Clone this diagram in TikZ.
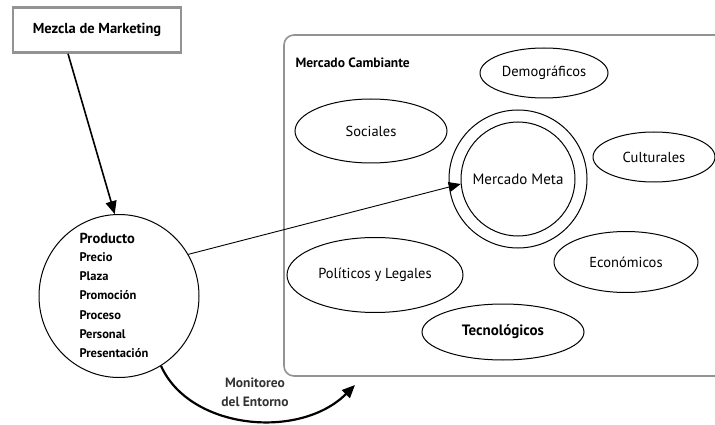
\documentclass[tikz,border=0pt]{standalone}
\usepackage{fontspec}
\setmainfont{PT Sans}
\usetikzlibrary{shapes.geometric,arrows.meta,calc}
\begin{document}
\begin{tikzpicture}[x=1pt,y=-1pt,
  factor/.style={draw, ellipse, line width=1pt, inner sep=0pt, font=\fontsize{14.5}{16}\selectfont},
  bigtip/.style={-{Triangle[length=13pt,width=11pt]}},
  lst/.style={font=\bfseries\fontsize{12.5}{14}\selectfont, anchor=west}]
\useasboundingbox (0,0) rectangle (715,425);
% top box
\node[draw=gray!85, line width=2.5pt, minimum width=168pt, minimum height=45pt,
      font=\bfseries\fontsize{14.5}{16}\selectfont] (mezcla) at (97,30) {Mezcla de Marketing};
% marketing mix ellipse
\node[draw, ellipse, line width=1pt, minimum width=160pt, minimum height=163pt] (mix) at (119,296) {};
\node[lst, font=\bfseries\fontsize{14.5}{16}\selectfont] (p1) at (76,238) {Producto};
\node[lst] (p2) at (76,257) {Precio};
\node[lst] (p3) at (76,276) {Plaza};
\node[lst] (p4) at (76,295) {Promoción};
\node[lst] (p5) at (76,315) {Proceso};
\node[lst] (p6) at (76,334) {Personal};
\node[lst] (p7) at (76,353) {Presentación};
% changing market frame
\draw[gray!85, line width=1.6pt, rounded corners=10pt] (740,35) -- (284,35) -- (284,376) -- (740,376);
\node[font=\bfseries\fontsize{13.5}{15}\selectfont, anchor=west] (cambio) at (292,63) {Mercado Cambiante};
% factors
\node[factor, minimum width=128pt, minimum height=50pt] (demo) at (544,73) {Demográficos};
\node[factor, minimum width=152pt, minimum height=64pt] (soc) at (371,131) {Sociales};
\node[factor, minimum width=122pt, minimum height=50pt] (cult) at (654,157) {Culturales};
\node[factor, minimum width=144pt, minimum height=61pt] (eco) at (626,262) {Económicos};
\node[factor, minimum width=176pt, minimum height=75pt] (pol) at (375,275) {Políticos y Legales};
\node[factor, minimum width=162pt, minimum height=56pt, font=\bfseries\fontsize{15}{16}\selectfont] (tec) at (503,332) {Tecnológicos};
% target market
\node[draw, circle, line width=1pt, minimum size=138pt, inner sep=0pt] (metaout) at (518,179) {};
\node[draw, circle, line width=1pt, minimum size=114pt, inner sep=0pt, font=\fontsize{15}{16}\selectfont] (meta) at (518,179) {Mercado Meta};
% connectors
\draw[line width=1.6pt, bigtip] ($(mezcla.south west)!0.33!(mezcla.south east)$) -- (mix.93);
\draw[line width=0.9pt, -{Triangle[length=12pt,width=10pt]}] (mix.31) -- (meta.185);
\coordinate (monend) at (355,385);
\draw[line width=2.2pt, bigtip] (mix.-59) .. controls (190,430) and (300,440) .. (monend);
\node[font=\bfseries\fontsize{13.5}{19}\selectfont, text=black!80, align=center] (mon) at (255,392) {Monitoreo\\del Entorno};
\end{tikzpicture}
\end{document}
